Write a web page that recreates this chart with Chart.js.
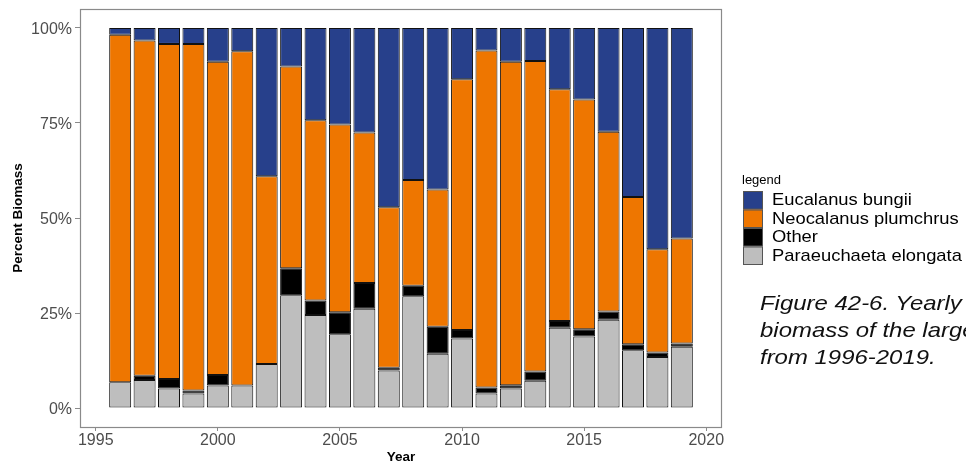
<!DOCTYPE html>
<html>
<head>
<meta charset="utf-8">
<script src="https://cdn.jsdelivr.net/npm/chart.js@4.4.1/dist/chart.umd.min.js"></script>
<style>
  html, body { margin: 0; padding: 0; background: #fff; overflow: hidden; }
  #wrap { position: relative; width: 966px; height: 465px; overflow: hidden; }
  #caption {
    position: absolute; left: 760px; top: 289px;
    font: italic 21px "Liberation Sans", Arial, sans-serif;
    line-height: 27px; color: #111; white-space: nowrap;
    transform: scaleX(1.14); transform-origin: 0 0;
  }
</style>
</head>
<body>
<div id="wrap">
  <canvas id="myChart" width="966" height="465"></canvas>
  <div id="caption">Figure 42-6. Yearly<br>biomass of the large<br>from 1996-2019.</div>
</div>
<script>
// yearly percent biomass per group (each year adds up to 100)
var years = [1996, 1997, 1998, 1999, 2000, 2001, 2002, 2003, 2004, 2005, 2006, 2007,
             2008, 2009, 2010, 2011, 2012, 2013, 2014, 2015, 2016, 2017, 2018, 2019];
var paraeuchaeta = [6.8, 7.4, 5.1, 3.8, 5.9, 5.9, 11.6, 29.7, 24.5, 19.4, 26.1, 9.9,
                    29.4, 14.3, 18.3, 3.8, 5.1, 7.2, 21.1, 18.8, 23.2, 15.2, 13.4, 16.1];
var other = [0, 1.1, 2.5, 0.8, 2.8, 0, 0, 7.1, 3.8, 5.8, 6.8, 0.7,
             2.8, 7.1, 2.2, 1.6, 0.9, 2.4, 1.8, 1.9, 2.2, 1.6, 1.2, 0.9];
var neocalanus = [91.4, 88.2, 88.2, 91.2, 82.4, 88.0, 49.4, 53.1, 47.4, 49.4, 39.6, 42.2,
                  27.8, 36.1, 66.0, 88.7, 85.1, 81.7, 61.0, 60.5, 47.3, 38.7, 27.2, 27.6];
var eucalanus = [1.8, 3.3, 4.2, 4.2, 8.9, 6.1, 39.0, 10.1, 24.3, 25.4, 27.5, 47.2,
                 40.0, 42.5, 13.5, 5.9, 8.9, 8.7, 16.1, 18.8, 27.3, 44.5, 58.2, 55.4];
var yTicks = [0, 25, 50, 75, 100];
var xTicks = [1995, 2000, 2005, 2010, 2015, 2020];

var FONT = '"Liberation Sans", Arial, sans-serif';

function points(values) {
    return years.map(function (yr, i) { return { x: yr, y: values[i] }; });
}

function series(label, values, colour) {
    return {
        label: label,
        data: points(values),
        backgroundColor: colour,
        borderColor: '#111',
        borderWidth: 1,
        borderSkipped: false,
        barPercentage: 0.9,
        categoryPercentage: 1
    };
}

// grey frame round the plot panel
var panelBorder = {
    id: 'panelBorder',
    afterDraw: function (chart) {
        var a = chart.chartArea, c = chart.ctx;
        c.save();
        c.strokeStyle = '#8a8a8a';
        c.lineWidth = 1.2;
        c.strokeRect(a.left + 0.5, a.top + 0.5, a.right - a.left - 1, a.bottom - a.top);
        c.restore();
    }
};

// legend on the right, top group first
var sideLegend = {
    id: 'sideLegend',
    afterDraw: function (chart) {
        var c = chart.ctx;
        var sets = chart.data.datasets.slice().reverse();
        c.save();
        c.fillStyle = '#000';
        c.textBaseline = 'middle';
        c.font = '13px ' + FONT;
        c.fillText('legend', 742, 180);
        sets.forEach(function (ds, i) {
            var top = 191 + i * 18.5;
            c.fillStyle = ds.backgroundColor;
            c.fillRect(743, top, 20, 18.5);
            c.strokeStyle = '#555';
            c.lineWidth = 1;
            c.strokeRect(743.5, top + 0.5, 19, 17.5);
            // labels are a little wider than the plain font
            c.save();
            c.translate(772, top + 9.5);
            c.scale(1.08, 1);
            c.font = '17px ' + FONT;
            c.fillStyle = '#000';
            c.fillText(ds.label, 0, 0);
            c.restore();
        });
        c.restore();
    }
};

var ctx = document.getElementById('myChart').getContext('2d');
var chart = new Chart(ctx, {
    type: 'bar',
    data: {
        datasets: [
            series('Paraeuchaeta elongata', paraeuchaeta, '#BEBEBE'),
            series('Other', other, '#000000'),
            series('Neocalanus plumchrus', neocalanus, '#EE7600'),
            series('Eucalanus bungii', eucalanus, '#27408B')
        ]
    },
    options: {
        responsive: false,
        animation: false,
        layout: { padding: { left: 0, right: 244, top: 9, bottom: 0 } },
        plugins: { legend: { display: false }, tooltip: { enabled: false } },
        scales: {
            x: {
                type: 'linear',
                stacked: true,
                offset: false,
                min: 1994.355,
                max: 2020.645,
                afterBuildTicks: function (s) { s.ticks = xTicks.map(function (v) { return { value: v }; }); },
                afterFit: function (s) { s.height = 38; s.paddingLeft = 0; s.paddingRight = 0; },
                ticks: {
                    color: '#4d4d4d',
                    font: { family: FONT, size: 16 },
                    padding: 0,
                    maxRotation: 0,
                    callback: function (v) { return String(v); }
                },
                grid: { offset: false, drawOnChartArea: false, tickLength: 4, color: '#8a8a8a' },
                border: { display: false },
                title: {
                    display: true, text: 'Year', color: '#000',
                    font: { family: FONT, size: 13.5, weight: 'bold' },
                    padding: 0
                }
            },
            y: {
                stacked: true,
                min: -5,
                max: 105,
                afterBuildTicks: function (s) { s.ticks = yTicks.map(function (v) { return { value: v }; }); },
                afterFit: function (s) { s.width = 80; s.paddingTop = 0; s.paddingBottom = 0; },
                ticks: {
                    color: '#4d4d4d',
                    font: { family: FONT, size: 16 },
                    padding: 3,
                    labelOffset: 1.5,
                    callback: function (v) { return v + '%'; }
                },
                grid: { drawOnChartArea: false, tickLength: 5, color: '#8a8a8a' },
                border: { display: false },
                title: {
                    display: true, text: 'Percent Biomass', color: '#000',
                    font: { family: FONT, size: 13.5, weight: 'bold' },
                    padding: { top: 10, bottom: 0 }
                }
            }
        }
    },
    plugins: [panelBorder, sideLegend]
});
</script>
</body>
</html>
